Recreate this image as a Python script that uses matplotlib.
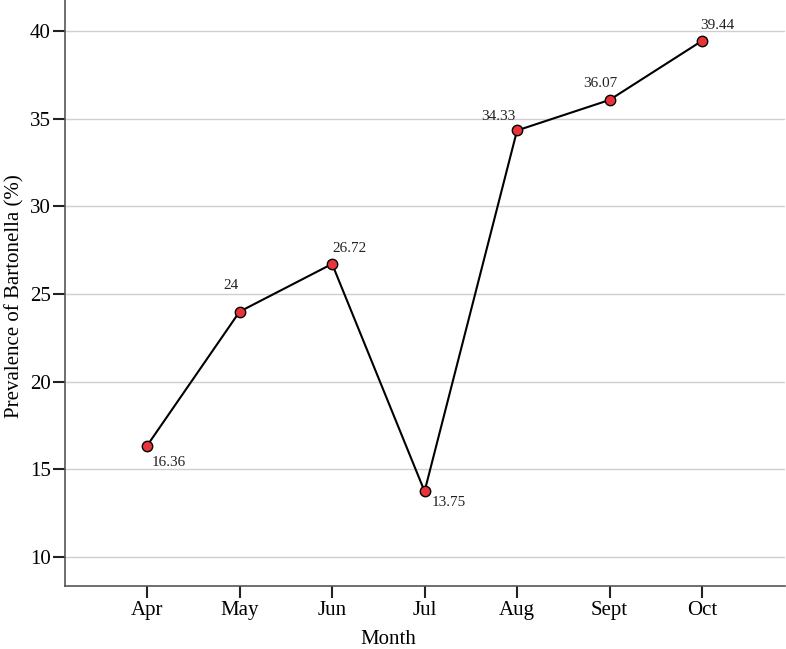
import matplotlib
matplotlib.use('Agg')
import matplotlib.pyplot as plt

months = ['Apr', 'May', 'Jun', 'Jul', 'Aug', 'Sept', 'Oct']
prevalence = [16.36, 24, 26.72, 13.75, 34.33, 36.07, 39.44]
value_labels = ['16.36', '24', '26.72', '13.75', '34.33', '36.07', '39.44']
# label offsets in points and horizontal alignment, per point
label_pos = [((3, -12), 'left'), ((-1, 19), 'right'), ((0, 11), 'left'),
             ((5, -8), 'left'), ((-1, 10), 'right'), ((6, 12), 'right'),
             ((-1, 11), 'left')]

plt.rcParams['font.family'] = ['Liberation Serif', 'DejaVu Serif']

fig = plt.figure(figsize=(7.86, 6.49), dpi=100)
ax = fig.add_axes([0.083, 0.097, 0.916, 0.903])

x = list(range(len(months)))
ax.plot(x, prevalence, color='black', lw=1.5, marker='o', markersize=7.5,
        markerfacecolor='#e8333a', markeredgecolor='black', markeredgewidth=1.0,
        zorder=3)

for i, v in enumerate(prevalence):
    off, ha = label_pos[i]
    ax.annotate(value_labels[i], (i, v), xytext=off, textcoords='offset points',
                ha=ha, va='center', fontsize=11, color='#222222')

ax.set_xlim(-0.886, 6.9)
ax.set_ylim(8.35, 41.77)
ax.set_xticks(x)
ax.set_xticklabels(months)
ax.set_yticks([10, 15, 20, 25, 30, 35, 40])
ax.yaxis.grid(True, color='#cfcfcf', lw=1.0)
ax.set_axisbelow(True)

for s in ['top', 'right']:
    ax.spines[s].set_visible(False)
for s in ['left', 'bottom']:
    ax.spines[s].set_color('#555555')
    ax.spines[s].set_linewidth(1.2)

ax.tick_params(axis='both', direction='out', length=8.5, width=1.5,
               color='#222222', labelsize=15, pad=2)

ax.set_xlabel('Month', fontsize=15, labelpad=8)
ax.xaxis.set_label_coords(0.449, -0.075)
ax.set_ylabel('Prevalence of Bartonella (%)', fontsize=15)
ax.yaxis.set_label_coords(-0.057, 0.495)

fig.savefig('out.png', dpi=100)
